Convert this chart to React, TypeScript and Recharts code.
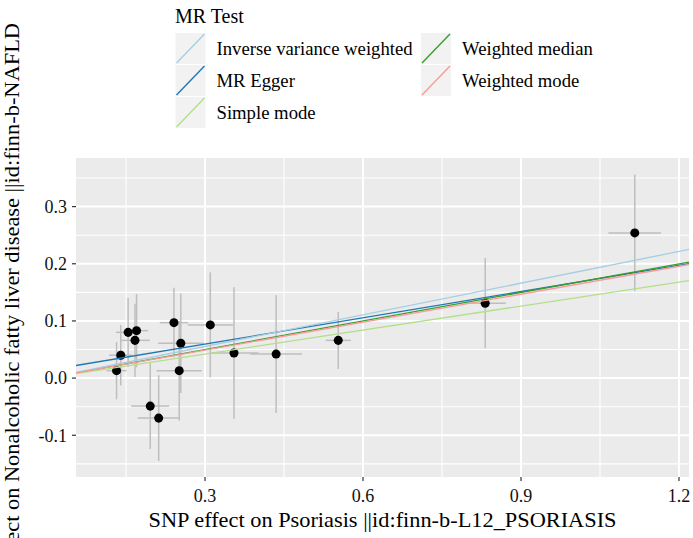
import React from 'react';
import {
  ComposedChart,
  Scatter,
  XAxis,
  YAxis,
  CartesianGrid,
  ReferenceLine,
  ErrorBar,
  Legend,
} from 'recharts';

// SNP effects (exposure = Psoriasis, outcome = NAFLD)
const snpX = [0.132, 0.140, 0.154, 0.170, 0.167, 0.196, 0.212, 0.241, 0.254, 0.251, 0.310, 0.355, 0.435, 0.553, 0.832, 1.116];
const snpY = [0.013, 0.040, 0.080, 0.083, 0.066, -0.049, -0.070, 0.097, 0.061, 0.013, 0.093, 0.044, 0.042, 0.066, 0.131, 0.254];
const snpXse = [0.019, 0.022, 0.023, 0.022, 0.028, 0.036, 0.040, 0.027, 0.043, 0.043, 0.043, 0.047, 0.049, 0.024, 0.039, 0.050];
const snpYse = [0.050, 0.053, 0.060, 0.064, 0.064, 0.075, 0.075, 0.061, 0.087, 0.087, 0.092, 0.115, 0.103, 0.050, 0.079, 0.102];

// MR methods
const methodNames = ['Inverse variance weighted', 'MR Egger', 'Simple mode', 'Weighted median', 'Weighted mode'];
const methodColors = ['#a6cee3', '#1f78b4', '#b2df8a', '#33a02c', '#fb9a99'];
const methodIntercepts = [0, 0.0136, 0, 0, 0];
const methodSlopes = [0.1846, 0.153, 0.140, 0.1665, 0.163];
const drawOrder = [1, 3, 0, 2, 4];

// Axes
const xTicks = [0.3, 0.6, 0.9, 1.2];
const yTicks = [-0.1, 0.0, 0.1, 0.2, 0.3];
const xMinor = [0.15, 0.45, 0.75, 1.05];
const yMinor = [-0.15, -0.05, 0.05, 0.15, 0.25, 0.35];
const xDomain = [0.055, 1.219];
const yDomain = [-0.173, 0.385];

const xTitle = 'SNP effect on Psoriasis ||id:finn-b-L12_PSORIASIS';
const yTitle = 'SNP effect on Nonalcoholic fatty liver disease  ||id:finn-b-NAFLD';
const legendTitle = 'MR Test';

const points = snpX.map((x, i) => ({ x, y: snpY[i], xErr: snpXse[i], yErr: snpYse[i] }));

const FONT = 'Liberation Serif';

const LegendBox = () => (
  <svg width={693} height={140} style={{ display: 'block' }}>
    <text x={175} y={22.5} fontSize={20} fill="#000" fontFamily={FONT}>{legendTitle}</text>
    {methodNames.map((name, i) => {
      const col = i < 3 ? 0 : 1;
      const row = i < 3 ? i : i - 3;
      const kx = col === 0 ? 175.5 : 421;
      const ky = 33 + row * 32;
      return (
        <g key={name}>
          <rect x={kx} y={ky} width={30} height={31} fill="#F2F2F2" />
          <line x1={kx + 1} y1={ky + 30} x2={kx + 29} y2={ky + 1} stroke={methodColors[i]} strokeWidth={1.4} />
          <text x={col === 0 ? 216.5 : 462} y={ky + 22} fontSize={18.7} fill="#000" fontFamily={FONT}>{name}</text>
        </g>
      );
    })}
  </svg>
);

const XTitle = (props: any) => {
  const vb = props.viewBox || { x: 76, y: 477, width: 613, height: 61 };
  return (
    <text x={vb.x + vb.width / 2} y={vb.y + 50} textAnchor="middle" fontSize={21} fill="#000"
      textLength={468} lengthAdjust="spacingAndGlyphs" fontFamily={FONT}>
      {xTitle}
    </text>
  );
};

const YTitle = (props: any) => {
  const vb = props.viewBox || { x: 0, y: 158, width: 76, height: 319 };
  const cx = 19;
  const cy = vb.y + vb.height / 2;
  return (
    <text x={cx} y={cy} transform={`rotate(-90, ${cx}, ${cy})`} textAnchor="middle" fontSize={21} fill="#000"
      textLength={589} lengthAdjust="spacingAndGlyphs" fontFamily={FONT}>
      {yTitle}
    </text>
  );
};

const tickStyle = { fill: '#111', fontSize: 18, fontFamily: FONT };

export default function App() {
  return (
    <div style={{ position: 'absolute', left: 0, top: 0, width: 693, height: 538, background: '#fff', overflow: 'hidden', fontFamily: FONT }}>
      <ComposedChart width={693} height={538} data={points} margin={{ top: 158, right: 4, left: 0, bottom: 0 }}>
        <CartesianGrid fill="#EBEBEB" fillOpacity={1} stroke="#ffffff" strokeWidth={1.1}
          horizontalValues={yMinor} verticalValues={xMinor} />
        <CartesianGrid fill="none" stroke="#ffffff" strokeWidth={2}
          horizontalValues={yTicks} verticalValues={xTicks} />
        <XAxis type="number" dataKey="x" domain={xDomain} ticks={xTicks} allowDataOverflow
          axisLine={false} tickLine={{ stroke: '#333', strokeWidth: 1.2 }} tickSize={4} tickMargin={8}
          height={61} tick={tickStyle} tickFormatter={(v: number) => v.toFixed(1)}
          label={<XTitle />} />
        <YAxis type="number" dataKey="y" domain={yDomain} ticks={yTicks} allowDataOverflow
          axisLine={false} tickLine={{ stroke: '#333', strokeWidth: 1.2 }} tickSize={4} tickMargin={5}
          width={76} tick={tickStyle} tickFormatter={(v: number) => v.toFixed(1)}
          label={<YTitle />} />
        <Scatter data={points} dataKey="y" fill="#000" isAnimationActive={false} legendType="none">
          <ErrorBar dataKey="yErr" direction="y" width={0} stroke="#BEBEBE" strokeWidth={1.5} isAnimationActive={false} />
          <ErrorBar dataKey="xErr" direction="x" width={0} stroke="#BEBEBE" strokeWidth={1.5} isAnimationActive={false} />
        </Scatter>
        {drawOrder.map((i) => (
          <ReferenceLine key={methodNames[i]}
            segment={[
              { x: xDomain[0], y: methodIntercepts[i] + methodSlopes[i] * xDomain[0] },
              { x: xDomain[1], y: methodIntercepts[i] + methodSlopes[i] * xDomain[1] },
            ]}
            stroke={methodColors[i]} strokeWidth={1.3} ifOverflow="visible" zIndex={700} />
        ))}
        <Legend layout="horizontal" verticalAlign="middle" align="center"
          wrapperStyle={{ top: 0, left: 0, width: 693, height: 140 }} content={() => <LegendBox />} />
      </ComposedChart>
    </div>
  );
}
